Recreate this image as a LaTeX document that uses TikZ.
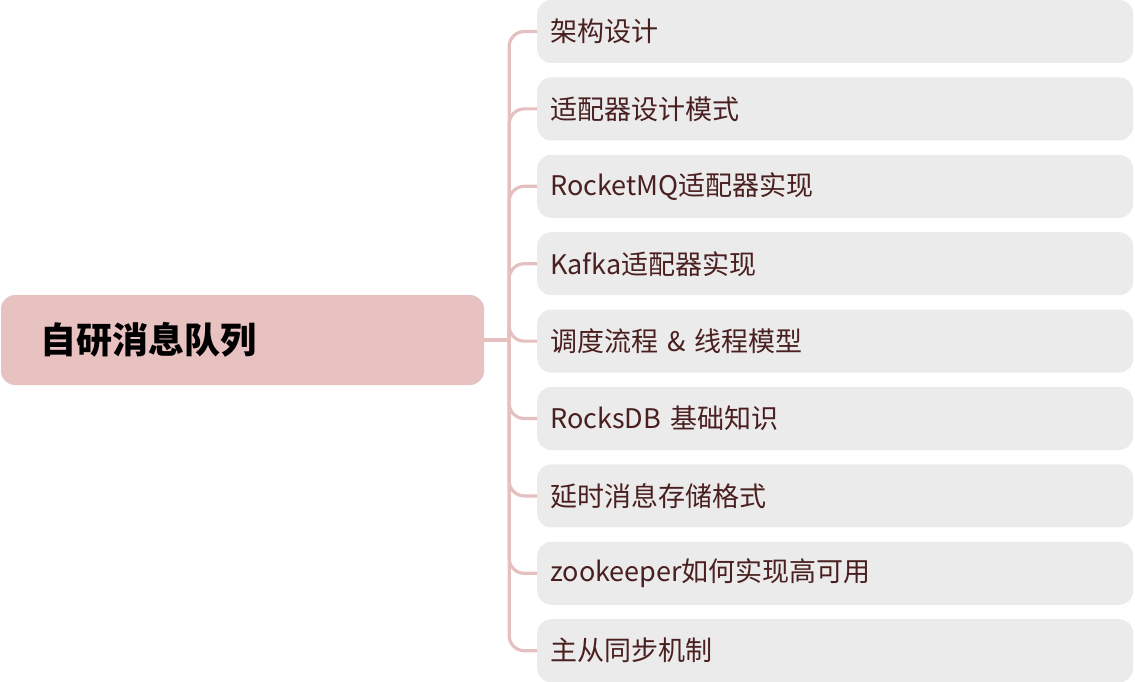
\documentclass[tikz,border=0pt]{standalone}
\usepackage{fontspec}
\setmainfont{Noto Sans CJK SC}
\usetikzlibrary{positioning}
\usetikzlibrary{calc}
\definecolor{rootfill}{HTML}{E8C1C1}
\definecolor{leaffill}{HTML}{EBEBEB}
\definecolor{leaftext}{HTML}{4A1F1F}
\definecolor{linkcol}{HTML}{E6C0C0}

\begin{document}
\begin{tikzpicture}[x=1pt, y=1pt,
  topic/.style={fill=rootfill, rounded corners=14pt, minimum height=90pt, text width=405pt, inner xsep=39pt, align=left, font=\fontsize{36}{42}\selectfont\bfseries},
  leaf/.style={fill=leaffill, rounded corners=14pt, minimum height=63pt, text width=570pt, inner xsep=13pt, align=left, text=leaftext, font=\fontsize{27}{32}\selectfont},
  link/.style={draw=linkcol, line width=3.2pt, rounded corners=15pt}]
%\draw [help lines] (0,0) grid (1135,-682);
\useasboundingbox (0,0) rectangle (1135,-682);

\node[topic]                  (root) at (242.5,-340) {自研消息队列};
\node[leaf, anchor=west]      (c1) at (537,-31.5)   {架构设计};
\node[leaf, below = 14pt of c1] (c2) {适配器设计模式};
\node[leaf, below = 14pt of c2] (c3) {RocketMQ适配器实现};
\node[leaf, below = 14pt of c3] (c4) {Kafka适配器实现};
\node[leaf, below = 14pt of c4] (c5) {调度流程 \& 线程模型};
\node[leaf, below = 14pt of c5] (c6) {RocksDB 基础知识};
\node[leaf, below = 14pt of c6] (c7) {延时消息存储格式};
\node[leaf, below = 14pt of c7] (c8) {zookeeper如何实现高可用};
\node[leaf, below = 14pt of c8] (c9) {主从同步机制};

% Edges
\coordinate (trunk) at ($(root.east)+(25,0)$);
\draw[link] (root.east) -- (trunk);
\foreach \c in {c1,c2,c3,c4,c5,c6,c7,c8,c9}
  \draw[link] (trunk) |- (\c.west);
\end{tikzpicture}
\end{document}
